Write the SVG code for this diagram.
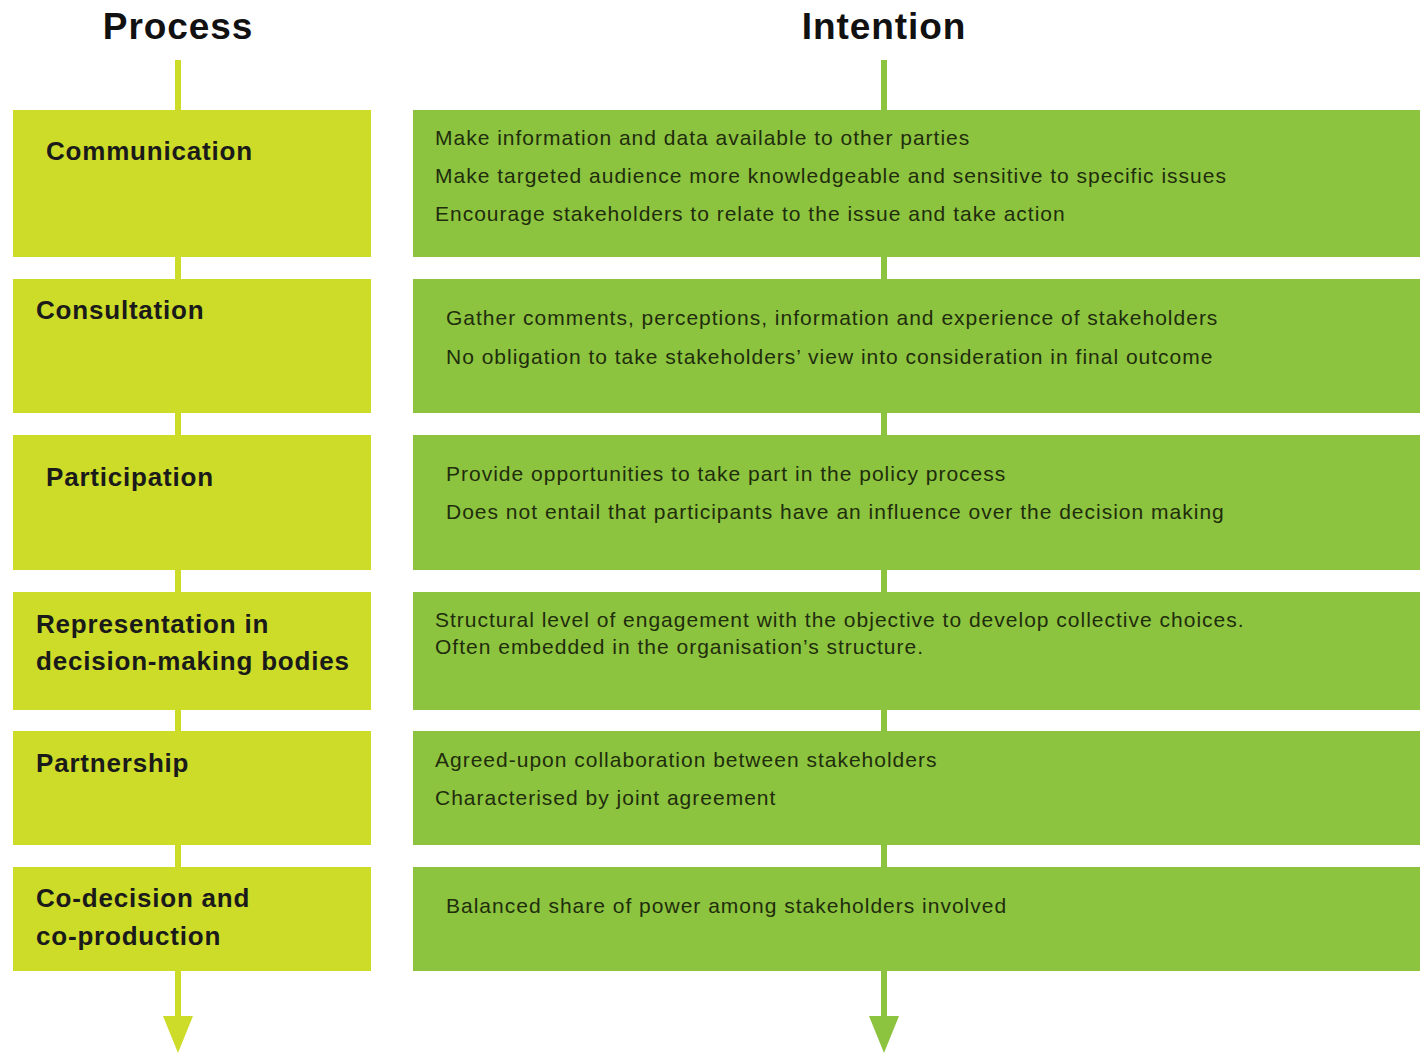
<svg xmlns="http://www.w3.org/2000/svg" width="1420" height="1054" viewBox="0 0 1420 1054">
<defs>
<style>
.title{font-family:"Liberation Sans",Arial,sans-serif;font-weight:bold;font-size:37px;letter-spacing:0.9px;fill:#111;text-anchor:middle}
.proc{fill:#cddc28}
.int{fill:#8cc43f}
.pl{font-family:"Liberation Sans",Arial,sans-serif;font-weight:bold;font-size:26px;letter-spacing:0.8px;fill:#1a1a1a}
.il{font-family:"Liberation Sans",Arial,sans-serif;font-size:21px;letter-spacing:1px;fill:#1f2d0c}
.lineP{stroke:#cddc28;stroke-width:6;fill:none}
.lineI{stroke:#8cc43f;stroke-width:6;fill:none}
</style>
</defs>
<rect width="1420" height="1054" fill="#ffffff"/>
<text class="title" x="178" y="39">Process</text>
<text class="title" x="884" y="39">Intention</text>
<g id="connectors">
<path class="lineP" d="M178,60 V1016"/>
<path class="lineI" d="M884,60 V1016"/>
<polygon points="163,1016 193,1016 178,1053" fill="#cddc28"/>
<polygon points="869,1016 899,1016 884,1053" fill="#8cc43f"/>
</g>
<g id="p1"><rect class="proc" x="13" y="110" width="358" height="147"/><text class="pl" x="46" y="160">Communication</text></g>
<g id="p2"><rect class="proc" x="13" y="279" width="358" height="134"/><text class="pl" x="36" y="319">Consultation</text></g>
<g id="p3"><rect class="proc" x="13" y="435" width="358" height="135"/><text class="pl" x="46" y="486">Participation</text></g>
<g id="p4"><rect class="proc" x="13" y="592" width="358" height="118"/><text class="pl" x="36" y="633">Representation in</text><text class="pl" x="36" y="670">decision-making bodies</text></g>
<g id="p5"><rect class="proc" x="13" y="731" width="358" height="114"/><text class="pl" x="36" y="772">Partnership</text></g>
<g id="p6"><rect class="proc" x="13" y="867" width="358" height="104"/><text class="pl" x="36" y="907">Co-decision and</text><text class="pl" x="36" y="945">co-production</text></g>
<g id="i1"><rect class="int" x="413" y="110" width="1007" height="147"/>
<text class="il" x="435" y="145">Make information and data available to other parties</text>
<text class="il" x="435" y="183">Make targeted audience more knowledgeable and sensitive to specific issues</text>
<text class="il" x="435" y="221">Encourage stakeholders to relate to the issue and take action</text></g>
<g id="i2"><rect class="int" x="413" y="279" width="1007" height="134"/>
<text class="il" x="446" y="325">Gather comments, perceptions, information and experience of stakeholders</text>
<text class="il" x="446" y="364">No obligation to take stakeholders’ view into consideration in final outcome</text></g>
<g id="i3"><rect class="int" x="413" y="435" width="1007" height="135"/>
<text class="il" x="446" y="481">Provide opportunities to take part in the policy process</text>
<text class="il" x="446" y="519">Does not entail that participants have an influence over the decision making</text></g>
<g id="i4"><rect class="int" x="413" y="592" width="1007" height="118"/>
<text class="il" x="435" y="627">Structural level of engagement with the objective to develop collective choices.</text>
<text class="il" x="435" y="654">Often embedded in the organisation’s structure.</text></g>
<g id="i5"><rect class="int" x="413" y="731" width="1007" height="114"/>
<text class="il" x="435" y="767">Agreed-upon collaboration between stakeholders</text>
<text class="il" x="435" y="805">Characterised by joint agreement</text></g>
<g id="i6"><rect class="int" x="413" y="867" width="1007" height="104"/>
<text class="il" x="446" y="913">Balanced share of power among stakeholders involved</text></g>
</svg>
